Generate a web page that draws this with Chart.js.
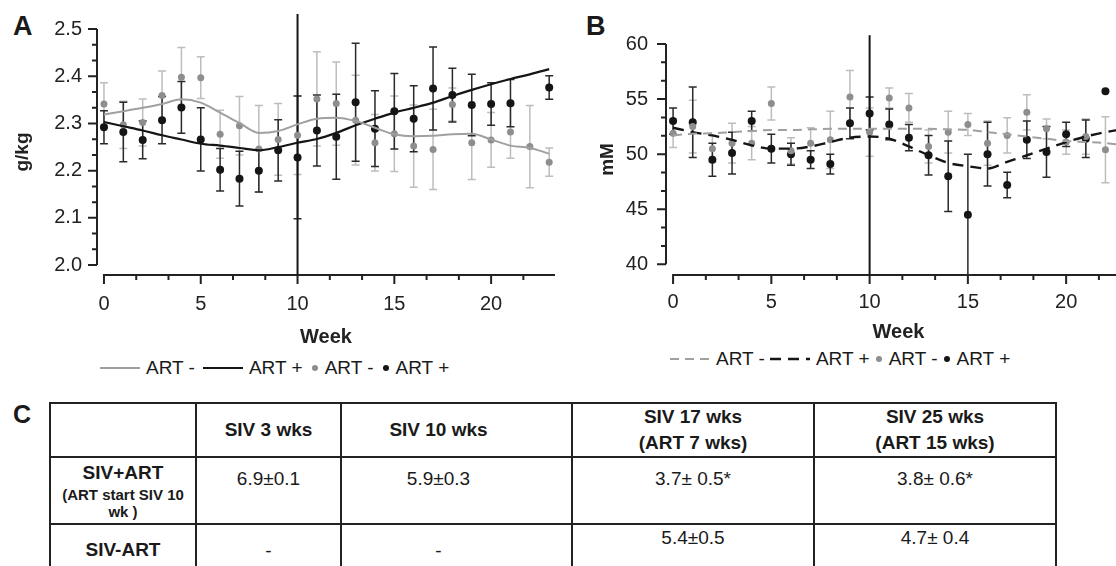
<!DOCTYPE html>
<html>
<head>
<meta charset="utf-8">
<script src="https://cdn.jsdelivr.net/npm/chart.js@4.4.1/dist/chart.umd.min.js"></script>
<style>
  body { margin: 0; width: 1116px; height: 566px; overflow: hidden; background: #fff;
         font-family: "Liberation Sans", Arial, sans-serif; color: #1a1a1a; position: relative; }
  canvas { position: absolute; }
  .panel-label { position: absolute; font-weight: bold; font-size: 27px; line-height: 27px; }
  .legend { position: absolute; display: flex; align-items: center; font-size: 19px; line-height: 22px; white-space: nowrap; }
  .legend .item { display: flex; align-items: center; }
  .legend .item span { margin-left: 6px; }
  #legendA .item { margin-right: 8px; }
  #legendB .item { margin-right: 5px; }
  table { position: absolute; left: 49px; top: 402px; border-collapse: collapse; table-layout: fixed; }
  td { border: 2px solid #222; text-align: center; vertical-align: top; padding: 0; font-size: 19px; line-height: 26px; }
  tr.head td { font-weight: bold; vertical-align: middle; line-height: 26px; }
  td.c3 { padding-right: 36px; }
  td.rowhead { font-weight: bold; }
  .small { font-size: 15px; line-height: 17px; }
</style>
</head>
<body>
<div class="panel-label" style="left:13px; top:13px;">A</div>
<div class="panel-label" style="left:586px; top:13px;">B</div>
<div class="panel-label" style="left:13px; top:401px; font-size:25px;">C</div>

<canvas id="chartA" width="575" height="350" style="left:0; top:0;"></canvas>
<canvas id="chartB" width="560" height="345" style="left:580px; top:0;"></canvas>
<div class="legend" id="legendA" style="left:100px; top:357px;"></div>
<div class="legend" id="legendB" style="left:670px; top:348px;"></div>

<table>
  <colgroup><col style="width:146px"><col style="width:145px"><col style="width:231px"><col style="width:242px"><col style="width:242px"></colgroup>
  <tr class="head" style="height:52px">
    <td></td>
    <td>SIV 3 wks</td>
    <td class="c3">SIV 10 wks</td>
    <td>SIV 17 wks<br>(ART 7 wks)</td>
    <td>SIV 25 wks<br>(ART 15 wks)</td>
  </tr>
  <tr style="height:67px">
    <td class="rowhead" style="padding-top:2px;">SIV+ART<div class="small">(ART start SIV 10<br>wk )</div></td>
    <td style="padding-top:8px;">6.9±0.1</td>
    <td class="c3" style="padding-top:8px;">5.9±0.3</td>
    <td style="padding-top:8px;">3.7± 0.5*</td>
    <td style="padding-top:8px;">3.8± 0.6*</td>
  </tr>
  <tr style="height:62px">
    <td class="rowhead" style="padding-top:12px;">SIV-ART</td>
    <td style="padding-top:13px;">-</td>
    <td class="c3" style="padding-top:13px;">-</td>
    <td>5.4±0.5</td>
    <td>4.7± 0.4</td>
  </tr>
</table>

<script>
// weeks after infection
const weeks = [0, 1, 2, 3, 4, 5, 6, 7, 8, 9, 10, 11, 12, 13, 14, 15, 16, 17, 18, 19, 20, 21, 22, 23];
const artStartWeek = 10;

// panel A, g/kg
const artMinusA = [2.341, 2.297, 2.302, 2.359, 2.398, 2.397, 2.277, 2.295, 2.246, 2.266, 2.275, 2.352, 2.342, 2.307, 2.259, 2.278, 2.252, 2.245, 2.340, 2.259, 2.265, 2.282, 2.251, 2.218];
const errMinusA = [0.045, 0.05, 0.05, 0.052, 0.063, 0.044, 0.051, 0.062, 0.092, 0.076, 0.083, 0.1, 0.088, 0.095, 0.06, 0.08, 0.087, 0.085, 0.035, 0.078, 0.058, 0.056, 0.087, 0.03];
const artPlusA = [2.292, 2.282, 2.265, 2.307, 2.334, 2.266, 2.202, 2.183, 2.200, 2.243, 2.228, 2.285, 2.272, 2.345, 2.289, 2.326, 2.310, 2.374, 2.360, 2.339, 2.341, 2.343, 2.517, 2.376];
const errPlusA = [0.035, 0.063, 0.04, 0.05, 0.055, 0.067, 0.045, 0.058, 0.045, 0.065, 0.13, 0.075, 0.09, 0.125, 0.08, 0.08, 0.07, 0.088, 0.057, 0.065, 0.045, 0.05, 0, 0.025];
const fitMinusA = [2.319, 2.326, 2.333, 2.341, 2.351, 2.344, 2.323, 2.301, 2.280, 2.284, 2.298, 2.310, 2.312, 2.305, 2.291, 2.277, 2.273, 2.274, 2.277, 2.278, 2.266, 2.253, 2.248, 2.236];
const fitPlusA = [2.303, 2.294, 2.285, 2.275, 2.266, 2.257, 2.253, 2.248, 2.243, 2.250, 2.259, 2.267, 2.280, 2.296, 2.310, 2.323, 2.333, 2.344, 2.358, 2.371, 2.383, 2.394, 2.404, 2.415];
const yTicksA = [2.0, 2.1, 2.2, 2.3, 2.4, 2.5];

// panel B, mM (week 23 falls outside the picture)
const weeksB = weeks.slice(0, 23);
const artMinusB = [51.9, 52.5, 50.5, 51.0, 51.0, 54.6, 50.3, 51.0, 51.3, 55.2, 52.0, 55.1, 54.2, 50.7, 52.0, 52.7, 51.0, 51.7, 53.8, 52.3, 51.1, 51.6, 50.4];
const errMinusB = [1.3, 2.4, 1.2, 1.8, 1.5, 1.5, 1.2, 1.4, 2.6, 2.4, 2.2, 0.9, 1.3, 1.5, 1.9, 1.0, 2.0, 1.6, 1.6, 0.9, 1.1, 1.6, 3.0];
const artPlusB = [53.0, 52.9, 49.5, 50.1, 53.0, 50.5, 50.0, 49.5, 49.1, 52.8, 53.7, 52.7, 51.5, 49.9, 48.0, 44.5, 50.0, 47.2, 51.3, 50.2, 51.8, 51.4, 55.7];
const errPlusB = [1.2, 3.2, 1.5, 1.9, 0.9, 1.3, 1.0, 0.8, 0.9, 1.4, 1.5, 1.4, 1.2, 1.8, 3.2, 5.5, 2.9, 1.15, 1.7, 2.3, 1.1, 1.7, 0];
const fitMinusB = [51.7, 51.85, 51.9, 52.0, 52.1, 52.2, 52.2, 52.25, 52.3, 52.3, 52.3, 52.3, 52.3, 52.3, 52.25, 52.2, 52.0, 51.8, 51.6, 51.4, 51.2, 51.1, 51.0, 50.8];
const fitPlusB = [52.4, 52.0, 51.7, 51.3, 50.8, 50.5, 50.5, 50.7, 51.1, 51.5, 51.6, 51.4, 50.7, 49.9, 49.2, 48.9, 48.7, 49.3, 49.9, 50.5, 51.1, 51.6, 52.0, 52.3];
const yTicksB = [40, 45, 50, 55, 60];

const xTicks = [0, 5, 10, 15, 20];

const greyPoint = '#8e8e8e';
const greyErr = '#bdbdbd';
const greyLine = '#a0a0a0';
const black = '#151515';

const toXY = (xs, ys) => xs.map((x, i) => ({ x: x, y: ys[i] }));

// axis lines + major/minor ticks, origin style
const originAxes = {
  id: 'originAxes',
  beforeDatasetsDraw(chart, args, opts) {
    const { ctx, chartArea, scales: { x, y } } = chart;
    ctx.save();
    ctx.strokeStyle = '#222';
    ctx.lineWidth = 2;
    ctx.beginPath();
    const left = chartArea.left, bottom = chartArea.bottom;
    ctx.moveTo(left, y.getPixelForValue(opts.yFrom));
    ctx.lineTo(left, y.getPixelForValue(opts.yTo));
    ctx.moveTo(x.getPixelForValue(0) - 1, bottom);
    ctx.lineTo(chartArea.right, bottom);
    const nY = Math.round((opts.yTo - opts.yFrom) / opts.yStep * 3);
    for (let k = 0; k <= nY; k++) {
      const py = y.getPixelForValue(opts.yFrom + k * opts.yStep / 3);
      ctx.moveTo(left - (k % 3 === 0 ? 9 : 5), py);
      ctx.lineTo(left, py);
    }
    for (let k = 0; k * 5 / 3 <= x.max; k++) {
      const px = x.getPixelForValue(k * 5 / 3);
      ctx.moveTo(px, bottom);
      ctx.lineTo(px, bottom + (k % 3 === 0 ? 9 : 5));
    }
    ctx.stroke();
    ctx.restore();
  }
};

const errorBars = {
  id: 'errorBars',
  beforeDatasetsDraw(chart) {
    const { ctx, scales: { x, y } } = chart;
    ctx.save();
    chart.data.datasets.forEach(ds => {
      if (!ds.errors) return;
      ctx.strokeStyle = ds.errorColor;
      ctx.lineWidth = 1.5;
      ds.data.forEach((p, i) => {
        const e = ds.errors[i];
        if (!e) return;
        const px = x.getPixelForValue(p.x);
        const top = y.getPixelForValue(p.y + e);
        const bot = y.getPixelForValue(p.y - e);
        ctx.beginPath();
        ctx.moveTo(px, top); ctx.lineTo(px, bot);
        ctx.moveTo(px - 4, top); ctx.lineTo(px + 4, top);
        ctx.moveTo(px - 4, bot); ctx.lineTo(px + 4, bot);
        ctx.stroke();
      });
    });
    ctx.restore();
  }
};

function makeChart(id, cfg) {
  const tickFont = { family: 'Liberation Sans', size: 20 };
  const titleFont = { family: 'Liberation Sans', size: 20, weight: 'bold' };
  const yTitleFont = { family: 'Liberation Sans', size: 19, weight: 'bold' };
  return new Chart(document.getElementById(id), {
    type: 'scatter',
    data: { datasets: cfg.datasets },
    options: {
      responsive: false,
      animation: false,
      layout: { padding: cfg.padding },
      plugins: {
        legend: { display: false },
        tooltip: { enabled: false },
        originAxes: cfg.axes
      },
      scales: {
        x: {
          type: 'linear', min: cfg.xMin, max: cfg.xMax, offset: false,
          grid: { display: false, drawTicks: false },
          border: { display: false },
          afterBuildTicks: s => { s.ticks = xTicks.map(v => ({ value: v })); },
          afterFit: s => { s.height = cfg.xHeight; },
          ticks: { autoSkip: false, maxRotation: 0, padding: cfg.xTickPad, color: '#222', font: tickFont },
          title: { display: true, text: 'Week', color: '#222', font: titleFont, padding: { top: 0, bottom: 1 } }
        },
        y: {
          type: 'linear', min: cfg.yMin, max: cfg.yMax,
          grid: { display: false, drawTicks: false },
          border: { display: false },
          afterBuildTicks: s => { s.ticks = cfg.yTicks.map(v => ({ value: v })); },
          afterFit: s => { s.width = cfg.yWidth; },
          ticks: { padding: cfg.yTickPad, color: '#222', font: tickFont, callback: cfg.yFormat },
          title: { display: true, text: cfg.yTitle, color: '#222', font: yTitleFont, padding: { top: cfg.yTitlePad, bottom: 0 } }
        }
      }
    },
    plugins: [originAxes, errorBars]
  });
}

function lineSet(label, xs, ys, color, width, dash) {
  return { label: label, legendKind: 'line', data: toXY(xs, ys), showLine: true, borderColor: color,
           borderWidth: width, borderDash: dash, pointRadius: 0, cubicInterpolationMode: 'monotone' };
}
function pointSet(label, xs, ys, errs, color, errColor, r) {
  return { label: label, legendKind: 'point', data: toXY(xs, ys), errors: errs, errorColor: errColor,
           backgroundColor: color, borderColor: color, pointRadius: r, borderWidth: 0, clip: false };
}
function vLine(yLow, yHigh) {
  return { data: [{ x: artStartWeek, y: yLow }, { x: artStartWeek, y: yHigh }], showLine: true,
           borderColor: black, borderWidth: 2, pointRadius: 0, clip: false };
}

const chartA = makeChart('chartA', {
  datasets: [
    lineSet('ART -', weeks, fitMinusA, greyLine, 2, []),
    lineSet('ART +', weeks, fitPlusA, black, 2.2, []),
    pointSet('ART -', weeks, artMinusA, errMinusA, greyPoint, greyErr, 3.5),
    pointSet('ART +', weeks, artPlusA, errPlusA, black, '#2a2a2a', 4),
    vLine(1.979, 2.532)
  ],
  padding: { top: 29, right: 20, left: 0, bottom: 0 },
  xMin: -0.36, xMax: 23.3, xHeight: 75, xTickPad: 17,
  yMin: 1.979, yMax: 2.5, yTicks: yTicksA, yWidth: 97, yTickPad: 15,
  yFormat: v => v.toFixed(1), yTitle: 'g/kg', yTitlePad: 11,
  axes: { yFrom: 2.0, yTo: 2.5, yStep: 0.1 }
});

const chartB = makeChart('chartB', {
  datasets: [
    lineSet('ART -', weeks, fitMinusB, greyLine, 2, [9, 6]),
    lineSet('ART +', weeks, fitPlusB, black, 2.4, [11, 7]),
    pointSet('ART -', weeksB, artMinusB, errMinusB, greyPoint, greyErr, 3.5),
    pointSet('ART +', weeksB, artPlusB, errPlusB, black, '#2a2a2a', 4),
    vLine(39.03, 60.8)
  ],
  padding: { top: 44, right: 9, left: 0, bottom: 0 },
  xMin: -0.36, xMax: 23.3, xHeight: 70, xTickPad: 15,
  yMin: 39.03, yMax: 60, yTicks: yTicksB, yWidth: 86, yTickPad: 18,
  yFormat: v => String(v), yTitle: 'mM', yTitlePad: 16,
  axes: { yFrom: 40, yTo: 60, yStep: 5 }
});

function buildLegend(el, chart) {
  chart.data.datasets.forEach(ds => {
    if (!ds.legendKind) return;
    const item = document.createElement('span');
    item.className = 'item';
    let sample;
    if (ds.legendKind === 'line') {
      sample = `<svg width="40" height="8"><line x1="0" y1="4" x2="40" y2="4" stroke="${ds.borderColor}" stroke-width="${ds.borderWidth}" stroke-dasharray="${ds.borderDash.join(' ')}"/></svg>`;
    } else {
      sample = `<svg width="8" height="8"><circle cx="4" cy="4" r="3" fill="${ds.backgroundColor}"/></svg>`;
    }
    item.innerHTML = sample + `<span>${ds.label}</span>`;
    el.appendChild(item);
  });
}
buildLegend(document.getElementById('legendA'), chartA);
buildLegend(document.getElementById('legendB'), chartB);
</script>
</body>
</html>
